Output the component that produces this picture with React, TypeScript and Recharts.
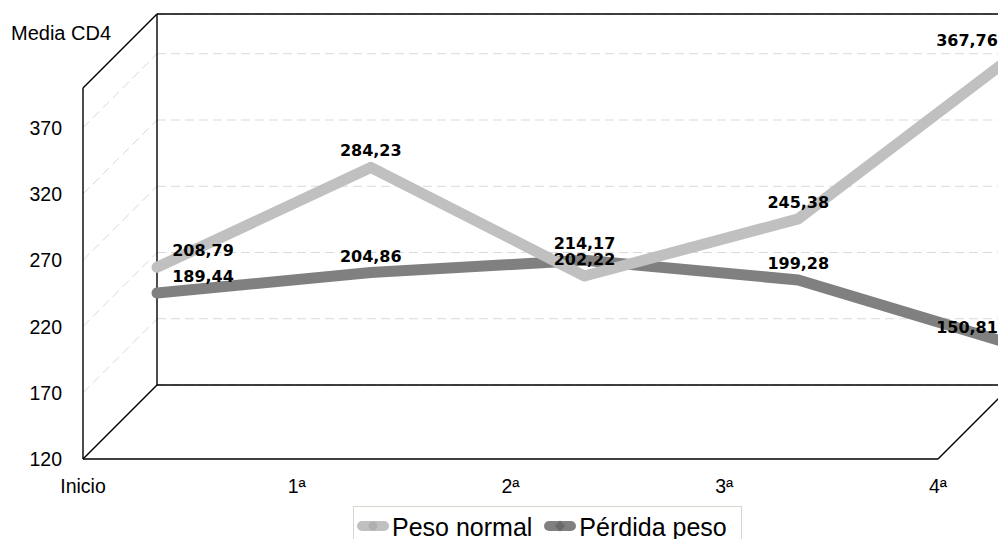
import React from "react"
import { LineChart, Line, XAxis, YAxis, CartesianGrid, ReferenceLine } from "recharts"

// chart values
const CATEGORIES = ["Inicio", "1ª", "2ª", "3ª", "4ª"]
const PESO_NORMAL = [208.79, 284.23, 202.22, 245.38, 367.76]
const PERDIDA_PESO = [189.44, 204.86, 214.17, 199.28, 150.81]
const Y_TICKS = [120, 170, 220, 270, 320, 370]
const Y_DOMAIN: [number, number] = [120, 400]
const Y_TITLE = "Media CD4"

const SERIES = [
  { key: "normal", name: "Peso normal", color: "#c0c0c0", marker: "#b0b0b0", shape: "circle", values: PESO_NORMAL },
  { key: "perdida", name: "Pérdida peso", color: "#808080", marker: "#6a6a6a", shape: "diamond", values: PERDIDA_PESO },
]

const data = CATEGORIES.map((name, i) => {
  const row: Record<string, number | string> = { idx: i, name }
  SERIES.forEach((s) => (row[s.key] = s.values[i]))
  return row
})

// geometry of the fake 3d box
const CHART_W = 1040
const CHART_H = 539
const MARGIN = { top: 14, right: 28, bottom: 124, left: 97 }
const Y_AXIS_W = 60
const X_AXIS_H = 30
const PLOT_W = CHART_W - MARGIN.left - MARGIN.right - Y_AXIS_W
const PLOT_H = CHART_H - MARGIN.top - MARGIN.bottom - X_AXIS_H
const DEPTH = 74
const LAST = CATEGORIES.length - 1
const DX = DEPTH / (PLOT_W / LAST)
const DY = DEPTH / (PLOT_H / (Y_DOMAIN[1] - Y_DOMAIN[0]))

const FONT = '"Liberation Sans", Arial, Helvetica, sans-serif'
const LABEL_FONT = '"DejaVu Sans", Verdana, sans-serif'

const [Y0, Y1] = Y_DOMAIN
const BOX_LINES = [
  [[0, Y0], [0, Y1]],
  [[0, Y1], [LAST, Y1]],
  [[0, Y0], [LAST, Y0]],
  [[-DX, Y0 - DY], [-DX, Y1 - DY]],
  [[-DX, Y0 - DY], [LAST - DX, Y0 - DY]],
  [[-DX, Y1 - DY], [0, Y1]],
  [[-DX, Y0 - DY], [0, Y0]],
  [[LAST - DX, Y0 - DY], [LAST, Y0]],
]

const fmt = (v: number) => v.toFixed(2).replace(".", ",")

function YTick({ x, y, payload }: any) {
  return (
    <text x={x - DEPTH - 21} y={y + DEPTH + 7} textAnchor="end" fontFamily={FONT} fontSize={19.5} fill="#000">
      {payload.value}
    </text>
  )
}

function XTick({ x, y, payload }: any) {
  return (
    <text x={x - DEPTH} y={y + DEPTH + 34} textAnchor="middle" fontFamily={FONT} fontSize={19.5} fill="#000">
      {CATEGORIES[payload.value]}
    </text>
  )
}

function ValueLabel({ x, y, value, index }: any) {
  const shift = index === 0 ? 46 : index === LAST ? -45 : 0
  return (
    <text x={x + shift} y={y - 11} textAnchor="middle" fontFamily={LABEL_FONT} fontWeight="bold" fontSize={16} fill="#000">
      {fmt(value)}
    </text>
  )
}

function LegendIcon({ color, marker, shape }: { color: string; marker: string; shape: string }) {
  return (
    <svg width={32} height={14} style={{ display: "block", flexShrink: 0 }}>
      <rect x={0} y={2} width={32} height={10} rx={5} fill={color} />
      {shape === "circle" ? (
        <circle cx={16} cy={7} r={4.5} fill={marker} />
      ) : (
        <path d="M16 1.5 L21.5 7 L16 12.5 L10.5 7 Z" fill={marker} />
      )}
    </svg>
  )
}

export default function App() {
  return (
    <div
      style={{
        position: "absolute",
        left: 0,
        top: 0,
        width: 998,
        height: 539,
        overflow: "hidden",
        background: "#fff",
        fontFamily: FONT,
      }}
    >
      <div style={{ position: "absolute", left: 11, top: 23, fontSize: 20, lineHeight: "20px", color: "#000", whiteSpace: "nowrap" }}>
        {Y_TITLE}
      </div>
      <LineChart width={CHART_W} height={CHART_H} data={data} margin={MARGIN}>
        <CartesianGrid vertical={false} stroke="#d9d9d9" strokeDasharray="9 5" />
        <XAxis
          dataKey="idx"
          type="number"
          domain={[0, LAST]}
          ticks={CATEGORIES.map((_, i) => i)}
          height={X_AXIS_H}
          axisLine={false}
          tickLine={false}
          tickSize={0}
          tickMargin={0}
          tick={<XTick />}
          interval={0}
        />
        <YAxis
          type="number"
          domain={Y_DOMAIN}
          ticks={Y_TICKS}
          width={Y_AXIS_W}
          axisLine={false}
          tickLine={false}
          tickSize={0}
          tickMargin={0}
          tick={<YTick />}
          allowDataOverflow
        />
        {Y_TICKS.slice(1).map((v) => (
          <ReferenceLine
            key={"side" + v}
            segment={[{ x: -DX, y: v - DY }, { x: 0, y: v }]}
            stroke="#d9d9d9"
            strokeDasharray="9 5"
            ifOverflow="visible"
          />
        ))}
        {BOX_LINES.map(([a, b], i) => (
          <ReferenceLine
            key={"box" + i}
            segment={[{ x: a[0], y: a[1] }, { x: b[0], y: b[1] }]}
            stroke="#000"
            strokeWidth={1.4}
            ifOverflow="visible"
          />
        ))}
        {[...SERIES].reverse().map((s) => (
          <Line
            key={s.key}
            dataKey={s.key}
            name={s.name}
            type="linear"
            stroke={s.color}
            strokeWidth={11}
            strokeLinecap="round"
            strokeLinejoin="round"
            dot={false}
            activeDot={false}
            isAnimationActive={false}
            label={<ValueLabel />}
          />
        ))}
      </LineChart>
      <div
        style={{
          position: "absolute",
          left: 353,
          top: 506,
          width: 389,
          height: 40,
          border: "1px solid #d6d6cc",
          display: "flex",
          alignItems: "center",
          paddingLeft: 3,
          boxSizing: "border-box",
          fontSize: 25,
          color: "#000",
          whiteSpace: "nowrap",
        }}
      >
        {SERIES.map((s) => (
          <div key={s.key} style={{ display: "flex", alignItems: "center", marginRight: 12, height: 38, flexShrink: 0 }}>
            <LegendIcon color={s.color} marker={s.marker} shape={s.shape} />
            <span style={{ marginLeft: 3, lineHeight: "38px", position: "relative", top: 1 }}>{s.name}</span>
          </div>
        ))}
      </div>
    </div>
  )
}
